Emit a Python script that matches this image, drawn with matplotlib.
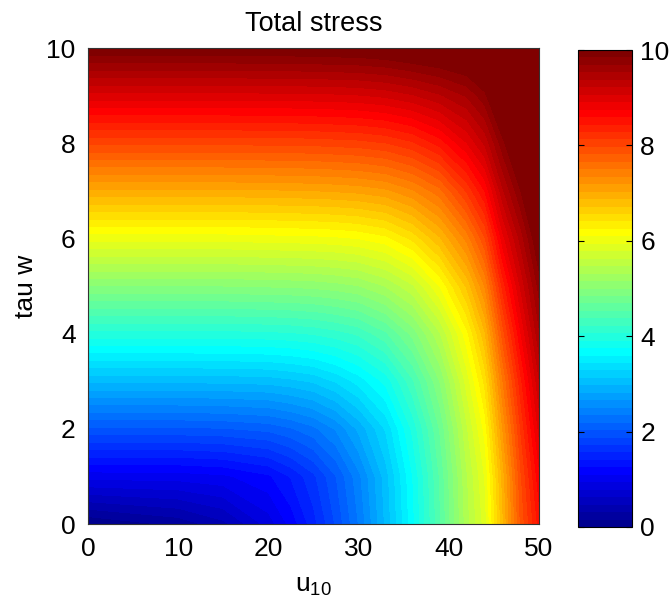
import numpy as np
import matplotlib
matplotlib.use("Agg")
import matplotlib.pyplot as plt
from matplotlib.cm import ScalarMappable
from matplotlib.colors import Normalize, ListedColormap

plt.rcParams["font.family"] = ["Liberation Sans", "DejaVu Sans"]
plt.rcParams["mathtext.fontset"] = "custom"
plt.rcParams["mathtext.rm"] = "Liberation Sans"
plt.rcParams["mathtext.it"] = "Liberation Sans"
plt.rcParams["mathtext.default"] = "regular"

# wind speed columns and wave stress rows of the table
u10 = [0, 10, 15, 20, 22.5, 25, 27.5, 30, 33, 36, 39, 42, 44, 46, 48, 50]
tau_w = [0, 1, 2, 3, 4, 5, 6, 7, 8, 9, 10]

# total stress, one row per tau_w value
stress = [
    [0.0, 0.20, 0.42, 0.85, 1.15, 1.50, 1.90, 2.35, 3.00, 3.70, 4.50, 5.40, 5.85, 6.85, 7.85, 8.50],
    [1.0, 1.01, 1.06, 1.22, 1.42, 1.68, 2.03, 2.45, 3.05, 3.75, 4.55, 5.45, 5.95, 6.95, 7.95, 8.70],
    [2.0, 2.00, 2.02, 2.08, 2.17, 2.30, 2.52, 2.85, 3.30, 3.95, 4.70, 5.60, 6.15, 7.20, 8.15, 8.95],
    [3.0, 3.00, 3.01, 3.03, 3.08, 3.15, 3.30, 3.50, 3.80, 4.35, 5.00, 5.85, 6.45, 7.50, 8.40, 9.20],
    [4.0, 4.00, 4.00, 4.02, 4.04, 4.08, 4.15, 4.25, 4.50, 4.90, 5.45, 6.20, 6.85, 7.90, 8.75, 9.50],
    [5.0, 5.00, 5.00, 5.02, 5.03, 5.05, 5.09, 5.15, 5.32, 5.60, 6.10, 6.75, 7.35, 8.35, 9.10, 9.75],
    [6.0, 6.00, 6.00, 6.02, 6.03, 6.04, 6.06, 6.10, 6.20, 6.45, 6.85, 7.40, 7.95, 8.85, 9.45, 10.05],
    [7.0, 7.00, 7.00, 7.01, 7.02, 7.03, 7.05, 7.08, 7.15, 7.32, 7.60, 8.15, 8.60, 9.35, 9.85, 10.30],
    [8.0, 8.00, 8.00, 8.01, 8.01, 8.02, 8.04, 8.06, 8.12, 8.25, 8.50, 8.90, 9.25, 9.80, 10.20, 10.55],
    [9.0, 9.00, 9.00, 9.01, 9.01, 9.02, 9.03, 9.05, 9.10, 9.20, 9.35, 9.55, 9.80, 10.25, 10.60, 10.90],
    [10.0, 10.00, 10.00, 10.01, 10.01, 10.02, 10.03, 10.04, 10.08, 10.15, 10.20, 10.25, 10.35, 10.70, 11.00, 11.20],
]


def matlab_jet(m=64):
    # same construction as MATLAB's jet(m)
    n = int(np.ceil(m / 4))
    u = np.concatenate([np.arange(1, n + 1) / n, np.ones(n - 1), np.arange(n, 0, -1) / n])
    g = int(np.ceil(n / 2)) - (m % 4 == 1) + np.arange(1, len(u) + 1)
    r = g + n
    b = g - n
    J = np.zeros((m, 3))
    J[r[r <= m] - 1, 0] = u[r <= m]
    J[g[g <= m] - 1, 1] = u[g <= m]
    J[b[b >= 1] - 1, 2] = u[b >= 1]
    return ListedColormap(J)


jet = matlab_jet(64)
levels = np.linspace(0, 10, 65)

fig = plt.figure(figsize=(6.72, 6.07), dpi=100)
ax = fig.add_axes([88 / 672, 83 / 607, 451 / 672, 476 / 607])
cax = fig.add_axes([578 / 672, 80 / 607, 54 / 672, 477 / 607])

ax.contourf(u10, tau_w, np.array(stress), levels=levels, cmap=jet, extend="max")
ax.set_xlim(0, 50)
ax.set_ylim(0, 10)
ax.set_xticks(range(0, 51, 10))
ax.set_yticks(range(0, 11, 2))
ax.tick_params(labelsize=19, length=0, pad=9)
for s in ax.spines.values():
    s.set_linewidth(0.8)
    s.set_color("#333333")
ax.set_title("Total stress", fontsize=19.5, pad=12)
ax.set_xlabel(r"u$_{10}$", fontsize=19, labelpad=10)
ax.set_ylabel("tau w", fontsize=19, labelpad=6)

cb = fig.colorbar(ScalarMappable(norm=Normalize(0, 10), cmap=jet), cax=cax)
cb.set_ticks(range(0, 11, 2))
cb.outline.set_linewidth(0.8)
cax.tick_params(labelsize=19, direction="in", length=4, width=0.8, pad=6,
                left=True, right=True)

fig.savefig("out.png", dpi=100)
